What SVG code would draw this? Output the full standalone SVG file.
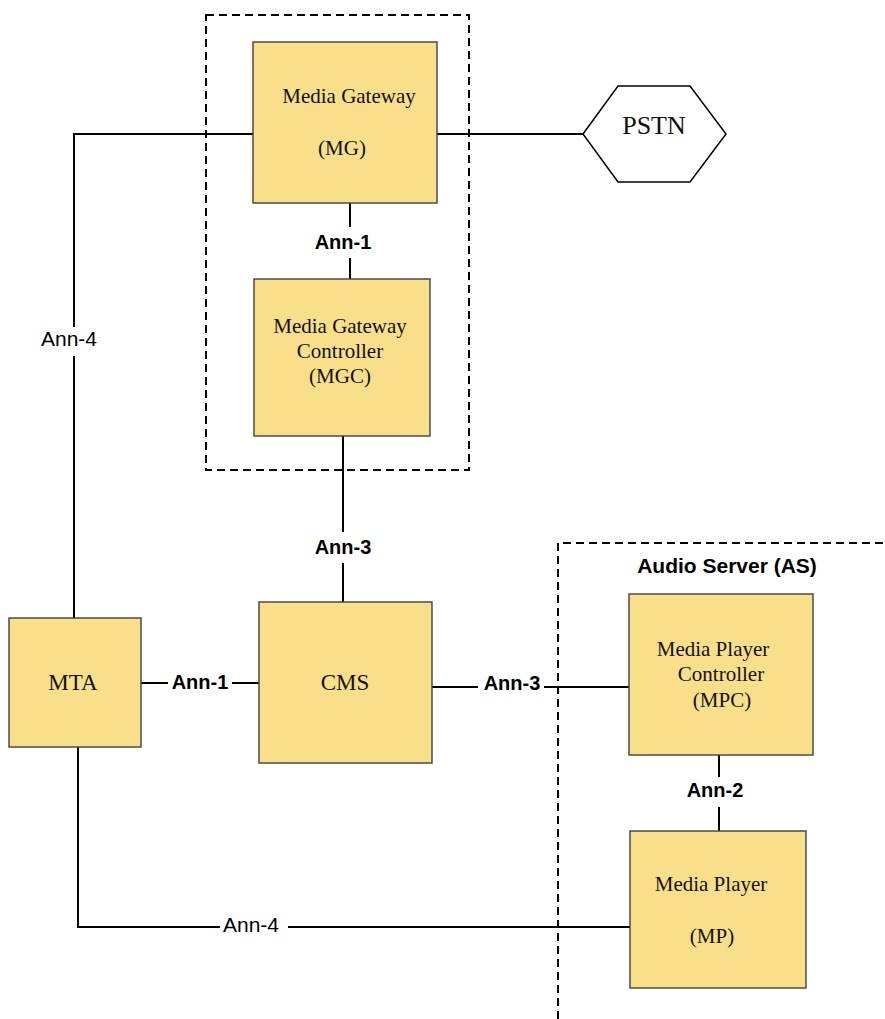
<svg xmlns="http://www.w3.org/2000/svg" width="885" height="1019" viewBox="0 0 885 1019">
<style>
.box{fill:#F9DF8A;stroke:#404040;stroke-width:1.4}
.ln{stroke:#000;stroke-width:2;fill:none}
.dash{stroke:#000;stroke-width:2;fill:none;stroke-dasharray:8,5}
.t{font-family:"Liberation Serif","Times New Roman",serif;font-size:21px;fill:#111;text-anchor:middle}
.b{font-family:"Liberation Sans",Arial,sans-serif;font-size:20px;font-weight:bold;fill:#000;text-anchor:middle}
.n{font-family:"Liberation Sans",Arial,sans-serif;font-size:21px;fill:#000;text-anchor:middle}
</style>
<rect width="885" height="1019" fill="#fff"/>
<g id="groups">
<rect class="dash" x="206" y="15" width="263" height="455"/>
<path class="dash" d="M558,1019 V543 H885"/>
<text class="b" x="727" y="573" style="font-size:21px">Audio Server (AS)</text>
</g>
<g id="connectors">
<path class="ln" d="M253,134 H74 V327 M74,356 V618"/>
<text class="n" x="69" y="346">Ann-4</text>
<path class="ln" d="M437,134 H583"/>
<path class="ln" d="M350,203 V227 M350,258 V279"/>
<text class="b" x="343" y="249">Ann-1</text>
<path class="ln" d="M343,436 V532 M343,563 V602"/>
<text class="b" x="343" y="554">Ann-3</text>
<path class="ln" d="M141,683 H168 M232,683 H259"/>
<text class="b" x="200" y="689">Ann-1</text>
<path class="ln" d="M432,687 H478 M544,687 H629"/>
<text class="b" x="512" y="690">Ann-3</text>
<path class="ln" d="M719,755 V777 M719,807 V831"/>
<text class="b" x="715" y="797">Ann-2</text>
<path class="ln" d="M78,747 V927 H220 M288,927 H630"/>
<text class="n" x="251" y="932">Ann-4</text>
</g>
<g id="MG">
<rect class="box" x="253" y="42" width="184" height="161"/>
<text class="t" x="349" y="103">Media Gateway</text>
<text class="t" x="342" y="155">(MG)</text>
</g>
<g id="PSTN">
<polygon points="583,134 618,86 690,86 726,134 690,182 618,182" fill="#fff" stroke="#000" stroke-width="1.5"/>
<text class="t" x="654" y="134" style="font-size:26px">PSTN</text>
</g>
<g id="MGC">
<rect class="box" x="254" y="279" width="176" height="157"/>
<text class="t" x="340" y="333">Media Gateway</text>
<text class="t" x="340" y="358">Controller</text>
<text class="t" x="340" y="383">(MGC)</text>
</g>
<g id="MTA">
<rect class="box" x="9" y="618" width="132" height="129"/>
<text class="t" x="73" y="690" style="font-size:23px">MTA</text>
</g>
<g id="CMS">
<rect class="box" x="259" y="602" width="173" height="161"/>
<text class="t" x="345" y="690" style="font-size:23px">CMS</text>
</g>
<g id="MPC">
<rect class="box" x="629" y="594" width="184" height="161"/>
<text class="t" x="713" y="656">Media Player</text>
<text class="t" x="721" y="681">Controller</text>
<text class="t" x="722" y="707">(MPC)</text>
</g>
<g id="MP">
<rect class="box" x="630" y="831" width="176" height="157"/>
<text class="t" x="711" y="891">Media Player</text>
<text class="t" x="712" y="943">(MP)</text>
</g>
</svg>
